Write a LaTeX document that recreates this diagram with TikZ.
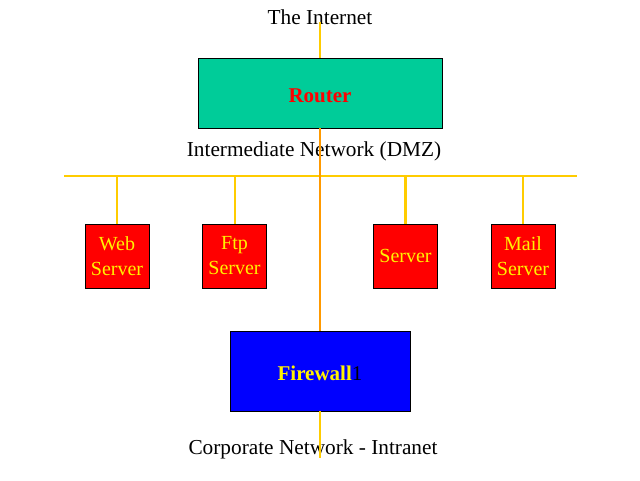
\documentclass[tikz,border=0pt]{standalone}
\usepackage{fontspec}
\setmainfont{Liberation Serif}
\begin{document}
\begin{tikzpicture}[x=1pt,y=-1pt,
  lbl/.style={font=\fontsize{21.3}{25}\selectfont, inner sep=0pt},
  box/.style={draw=black, line width=0.8pt, inner sep=0pt},
  boxtext/.style={inner sep=0pt, font=\fontsize{21}{24}\selectfont\bfseries},
  srvbox/.style={box, fill=red, minimum width=64pt, minimum height=64pt,
     text=yellow, align=center, font=\fontsize{20}{25}\selectfont},
  yline/.style={draw={rgb,255:red,255;green,204;blue,0}, line width=2.6pt},
  oline/.style={draw={rgb,255:red,255;green,153;blue,0}, line width=2.8pt}]
\useasboundingbox (0,0) rectangle (640,480);
% text labels
\node[lbl] (inet) at (320,17) {The Internet};
\node[lbl] (dmz) at (314,151) {Intermediate Network (DMZ)};
\node[lbl] (corp) at (313,449) {Corporate Network - Intranet};
% coordinates
\coordinate (itop) at (320,22);
\coordinate (busL) at (64,176);
\coordinate (busR) at (577,176);
\coordinate (cbot) at (320,458);
% boxes
\node[box, fill={rgb,255:red,0;green,204;blue,153}, minimum width=244pt, minimum height=70pt] (router) at (320,93) {};
\node[boxtext, text=red] (routertext) at (320,96) {Router};
\node[srvbox] (web) at (117,256) {Web\\Server};
\node[srvbox] (ftp) at (234.5,256) {Ftp\\Server};
\node[srvbox] (srv) at (405.5,256) {Server};
\node[srvbox] (mail) at (523,256) {Mail\\Server};
\node[box, fill={rgb,255:red,0;green,0;blue,255}, minimum width=180pt, minimum height=80pt] (fw) at (320,371) {};
\node[boxtext] (fwtext) at (320,373) {\textcolor{yellow}{Firewall}\mdseries 1};
% connectors
\draw[yline] (itop) -- (router.north);
\draw[yline] (busL) -- (busR);
\draw[yline] (web.north) -- (web.north |- busL);
\draw[yline, line width=2pt] (ftp.north) -- (ftp.north |- busL);
\draw[yline] (srv.north) -- (srv.north |- busL);
\draw[yline, line width=2pt] (mail.north) -- (mail.north |- busL);
\draw[oline] (router.south) -- (fw.north);
\draw[yline] (fw.south) -- (cbot);
\end{tikzpicture}
\end{document}
